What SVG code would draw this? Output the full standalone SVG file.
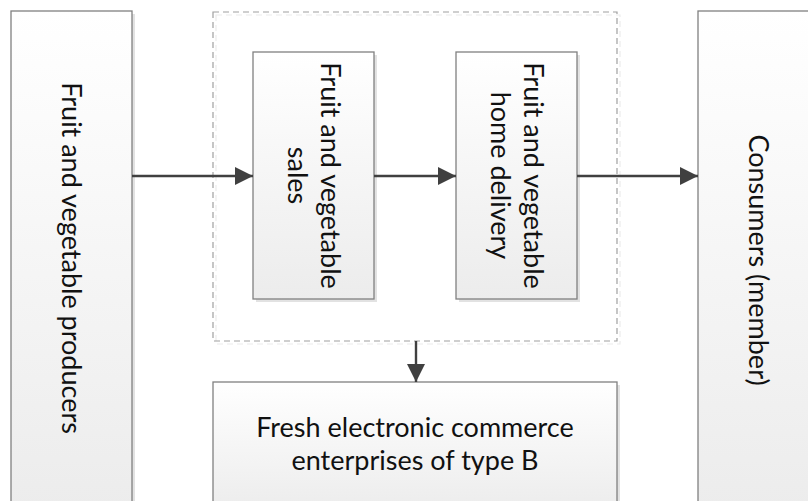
<svg xmlns="http://www.w3.org/2000/svg" width="808" height="501" viewBox="0 0 808 501">
<defs>
<linearGradient id="g" x1="0" y1="0" x2="0" y2="1">
<stop offset="0" stop-color="#ffffff"/>
<stop offset="1" stop-color="#ececec"/>
</linearGradient>
<marker id="ah" markerWidth="18" markerHeight="18" refX="18" refY="9" orient="auto" markerUnits="userSpaceOnUse">
<path d="M0,0 L18,9 L0,18 Z" fill="#404040"/>
</marker>
<style>
.box{fill:url(#g);stroke:#808080;stroke-width:1.3}
.sh{fill:#e2e2e2}
.t{font-family:Lato,"Open Sans","Liberation Sans",sans-serif;font-size:27px;fill:#111111;text-anchor:middle}
.c{stroke:#404040;stroke-width:2.4;fill:none;marker-end:url(#ah)}
.dash{fill:none;stroke:#a0a0a0;stroke-width:1.2;stroke-dasharray:6,4}
</style>
</defs>
<rect width="808" height="501" fill="#ffffff"/>
<g id="container">
<rect x="216" y="15" width="404" height="329" fill="none" stroke="#ececec" stroke-width="1.2" stroke-dasharray="6,4"/>
<rect class="dash" x="213" y="12" width="404" height="329"/>
</g>
<g id="producers">
<rect class="sh" x="14" y="14" width="121" height="500"/>
<rect class="box" x="11" y="11" width="121" height="500"/>
<text class="t" transform="translate(71.5,258) rotate(90)" y="9.5">Fruit and vegetable producers</text>
</g>
<g id="sales">
<rect class="sh" x="256" y="55" width="121" height="247"/>
<rect class="box" x="253" y="52" width="121" height="247"/>
<text class="t" transform="translate(313.5,175.5) rotate(90)"><tspan x="0" y="-7">Fruit and vegetable</tspan><tspan x="0" y="26">sales</tspan></text>
</g>
<g id="delivery">
<rect class="sh" x="459" y="55" width="121" height="247"/>
<rect class="box" x="456" y="52" width="121" height="247"/>
<text class="t" transform="translate(516.5,175.5) rotate(90)"><tspan x="0" y="-7">Fruit and vegetable</tspan><tspan x="0" y="26">home delivery</tspan></text>
</g>
<g id="consumers">
<rect class="sh" x="701" y="14" width="121" height="500"/>
<rect class="box" x="698" y="11" width="121" height="500"/>
<text class="t" transform="translate(758.5,260) rotate(90)" y="9.5">Consumers (member)</text>
</g>
<g id="enterprises">
<rect class="sh" x="216" y="385" width="404" height="130"/>
<rect class="box" x="213" y="382" width="404" height="130"/>
<text class="t" x="415" y="437">Fresh electronic commerce</text>
<text class="t" x="415" y="470">enterprises of type B</text>
</g>
<g id="connectors">
<line class="c" x1="132" y1="176" x2="253" y2="176"/>
<line class="c" x1="374" y1="176" x2="456" y2="176"/>
<line class="c" x1="577" y1="176" x2="698" y2="176"/>
<line class="c" x1="416" y1="341" x2="416" y2="382"/>
</g>
</svg>
